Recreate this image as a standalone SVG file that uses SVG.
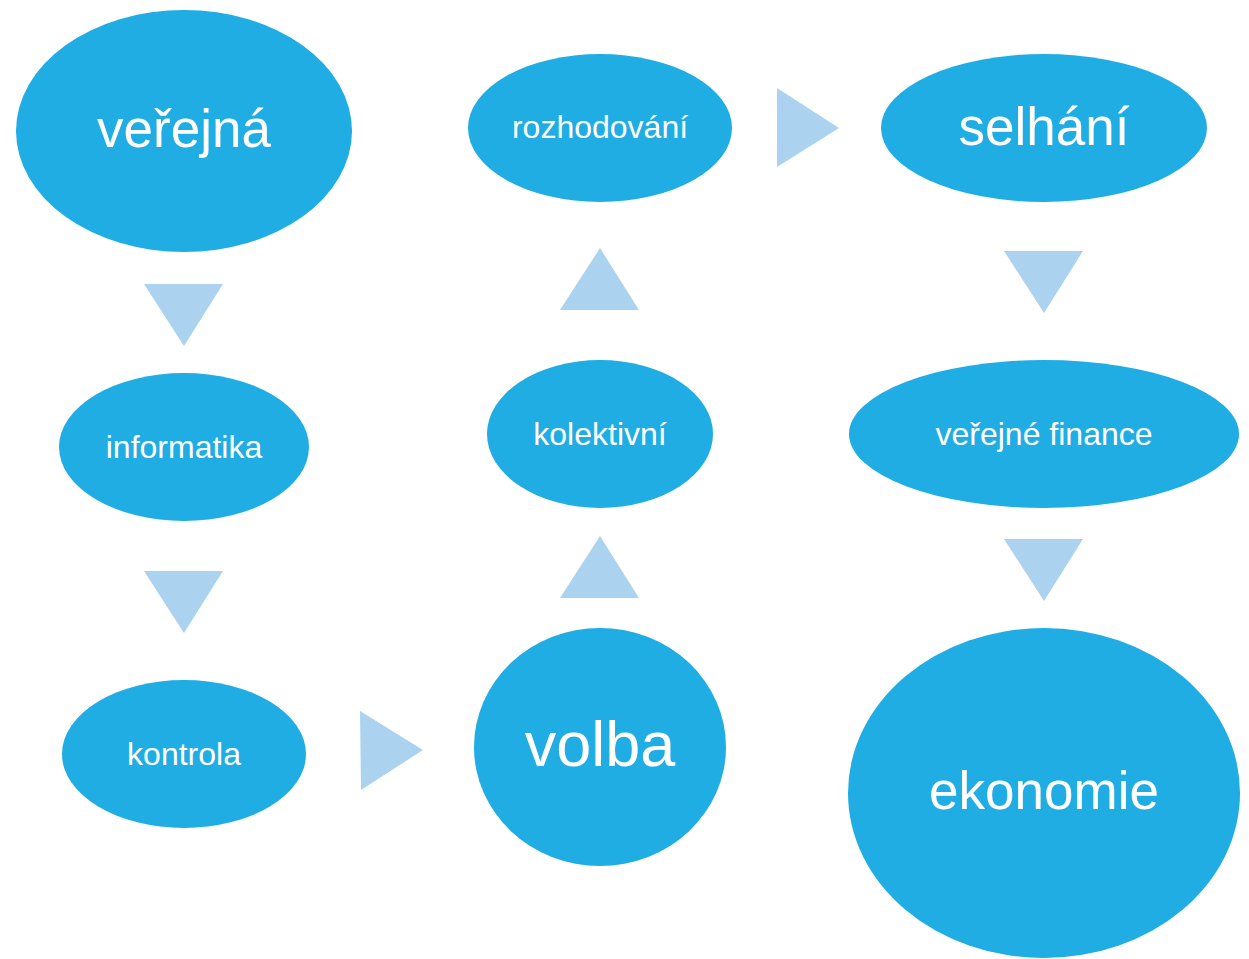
<svg xmlns="http://www.w3.org/2000/svg" width="1249" height="959" viewBox="0 0 1249 959">
<style>
.n{fill:#1FADE4}
.a{fill:#ABD3EF}
text{fill:#FFFFFF;font-family:"Liberation Sans",Arial,sans-serif;text-anchor:middle}
.s{font-size:32px}
.l{font-size:53px}
.xl{font-size:63px}
</style>
<rect width="1249" height="959" fill="#FFFFFF"/>
<g id="connectors">
<polygon class="a" points="144,284 223,284 184,346"/>
<polygon class="a" points="144,571 223,571 184,633"/>
<polygon class="a" points="360,711 423,750 361,790"/>
<polygon class="a" points="560,598 639,598 600,536"/>
<polygon class="a" points="560,310 639,310 600,248"/>
<polygon class="a" points="777,88 839,128 777,167"/>
<polygon class="a" points="1004,251 1083,251 1044,313"/>
<polygon class="a" points="1004,539 1083,539 1044,601"/>
</g>
<g id="verejna"><ellipse class="n" cx="184" cy="131" rx="168" ry="121"/><text class="l" x="184" y="147">veřejná</text></g>
<g id="informatika"><ellipse class="n" cx="184" cy="447" rx="125" ry="74"/><text class="s" x="184" y="458">informatika</text></g>
<g id="kontrola"><ellipse class="n" cx="184" cy="754" rx="122" ry="74"/><text class="s" x="184" y="765">kontrola</text></g>
<g id="volba"><ellipse class="n" cx="600" cy="747" rx="126" ry="119"/><text class="xl" x="600" y="766">volba</text></g>
<g id="kolektivni"><ellipse class="n" cx="600" cy="434" rx="113" ry="74"/><text class="s" x="600" y="445">kolektivní</text></g>
<g id="rozhodovani"><ellipse class="n" cx="600" cy="128" rx="132" ry="74"/><text class="s" x="600" y="138">rozhodování</text></g>
<g id="selhani"><ellipse class="n" cx="1044" cy="128" rx="163" ry="74"/><text class="l" x="1044" y="145">selhání</text></g>
<g id="verejne-finance"><ellipse class="n" cx="1044" cy="434" rx="195" ry="74"/><text class="s" x="1044" y="445">veřejné finance</text></g>
<g id="ekonomie"><ellipse class="n" cx="1044" cy="793" rx="196" ry="165"/><text class="l" x="1044" y="809">ekonomie</text></g>
</svg>
